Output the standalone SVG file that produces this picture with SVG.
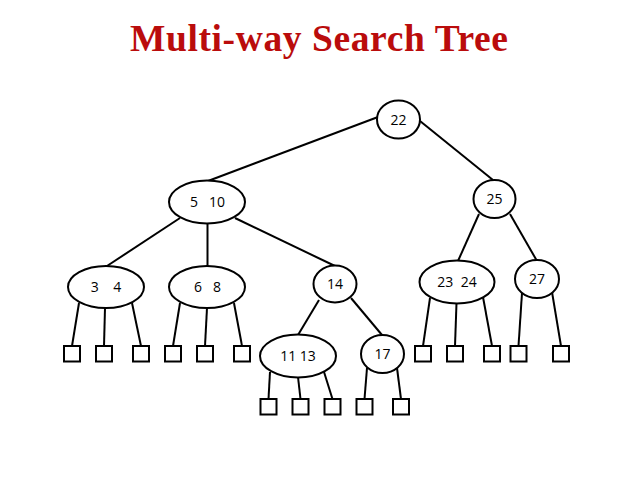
<svg xmlns="http://www.w3.org/2000/svg" width="638" height="479" viewBox="0 0 638 479">
<style>
.n{fill:#fff;stroke:#000;stroke-width:2}
.t{font-family:"Open Sans","Liberation Sans",sans-serif;font-size:14px;fill:#000;text-anchor:middle;white-space:pre}
.e{stroke:#000;stroke-width:2;fill:none}
.leaf{fill:#fff;stroke:#000;stroke-width:2}
</style>
<rect width="638" height="479" fill="#fff"/>
<text x="130" y="51" font-family="'Liberation Serif','Times New Roman',serif" font-weight="bold" font-size="37.5" fill="#BA0C0C" textLength="378" lengthAdjust="spacing">Multi-way Search Tree</text>
<g id="connectors">
<line class="e" x1="378" y1="117" x2="208" y2="181"/>
<line class="e" x1="420" y1="121" x2="493" y2="180"/>
<line class="e" x1="479" y1="214" x2="458" y2="261"/>
<line class="e" x1="510" y1="214" x2="537" y2="261"/>
<line class="e" x1="180" y1="218" x2="107" y2="266"/>
<line class="e" x1="207.5" y1="223" x2="207.5" y2="266"/>
<line class="e" x1="235" y1="218" x2="335" y2="266"/>
<line class="e" x1="319" y1="300" x2="298" y2="335"/>
<line class="e" x1="351" y1="298" x2="382" y2="335"/>
<line class="e" x1="79" y1="303" x2="72" y2="346"/>
<line class="e" x1="105" y1="308" x2="104" y2="346"/>
<line class="e" x1="132" y1="303" x2="141" y2="346"/>
<line class="e" x1="180" y1="303" x2="173" y2="346"/>
<line class="e" x1="207" y1="308" x2="205" y2="346"/>
<line class="e" x1="234" y1="303" x2="242" y2="346"/>
<line class="e" x1="270" y1="372" x2="268.5" y2="399"/>
<line class="e" x1="298" y1="377" x2="300.5" y2="399"/>
<line class="e" x1="324" y1="372" x2="332.5" y2="399"/>
<line class="e" x1="367" y1="368" x2="364.5" y2="399"/>
<line class="e" x1="397" y1="368" x2="401" y2="399"/>
<line class="e" x1="430" y1="298" x2="423" y2="346"/>
<line class="e" x1="456.5" y1="303" x2="455" y2="346"/>
<line class="e" x1="483" y1="297" x2="492" y2="346"/>
<line class="e" x1="522" y1="293" x2="518.5" y2="346"/>
<line class="e" x1="552" y1="292" x2="561" y2="346"/>
</g>
<g id="node-22"><ellipse class="n" cx="398.5" cy="119.5" rx="21.5" ry="19"/><text class="t" x="398.5" y="124.5">22</text></g>
<g id="node-5-10"><ellipse class="n" cx="207" cy="202" rx="38" ry="21.5"/><text class="t" x="207.5" y="207" xml:space="preserve">5   10</text></g>
<g id="node-25"><ellipse class="n" cx="494.5" cy="199" rx="21" ry="19"/><text class="t" x="494.5" y="204">25</text></g>
<g id="node-3-4"><ellipse class="n" cx="106" cy="287" rx="38" ry="21"/><text class="t" x="106" y="292" xml:space="preserve">3    4</text></g>
<g id="node-6-8"><ellipse class="n" cx="207" cy="287" rx="38" ry="21"/><text class="t" x="207.5" y="292" xml:space="preserve">6   8</text></g>
<g id="node-14"><ellipse class="n" cx="335" cy="284" rx="21.5" ry="18.5"/><text class="t" x="335" y="289">14</text></g>
<g id="node-23-24"><ellipse class="n" cx="457" cy="282" rx="37.5" ry="21.5"/><text class="t" x="457" y="287" xml:space="preserve">23  24</text></g>
<g id="node-27"><ellipse class="n" cx="537" cy="279" rx="22" ry="19"/><text class="t" x="537" y="284">27</text></g>
<g id="node-11-13"><ellipse class="n" cx="298" cy="356" rx="38" ry="21.5"/><text class="t" x="298" y="361">11 13</text></g>
<g id="node-17"><ellipse class="n" cx="382.5" cy="354" rx="21.5" ry="19"/><text class="t" x="382.5" y="359">17</text></g>
<g id="leaves">
<rect class="leaf" x="64" y="346" width="16" height="15.5"/>
<rect class="leaf" x="96" y="346" width="16" height="15.5"/>
<rect class="leaf" x="133" y="346" width="16" height="15.5"/>
<rect class="leaf" x="165" y="346" width="16" height="15.5"/>
<rect class="leaf" x="197" y="346" width="16" height="15.5"/>
<rect class="leaf" x="234" y="346" width="16" height="15.5"/>
<rect class="leaf" x="415" y="346" width="16" height="15.5"/>
<rect class="leaf" x="447" y="346" width="16" height="15.5"/>
<rect class="leaf" x="484" y="346" width="16" height="15.5"/>
<rect class="leaf" x="510.5" y="346" width="16" height="15.5"/>
<rect class="leaf" x="553" y="346" width="16" height="15.5"/>
<rect class="leaf" x="260.5" y="399" width="16" height="15.5"/>
<rect class="leaf" x="292.5" y="399" width="16" height="15.5"/>
<rect class="leaf" x="324.5" y="399" width="16" height="15.5"/>
<rect class="leaf" x="356.5" y="399" width="16" height="15.5"/>
<rect class="leaf" x="393" y="399" width="16" height="15.5"/>
</g>
</svg>
